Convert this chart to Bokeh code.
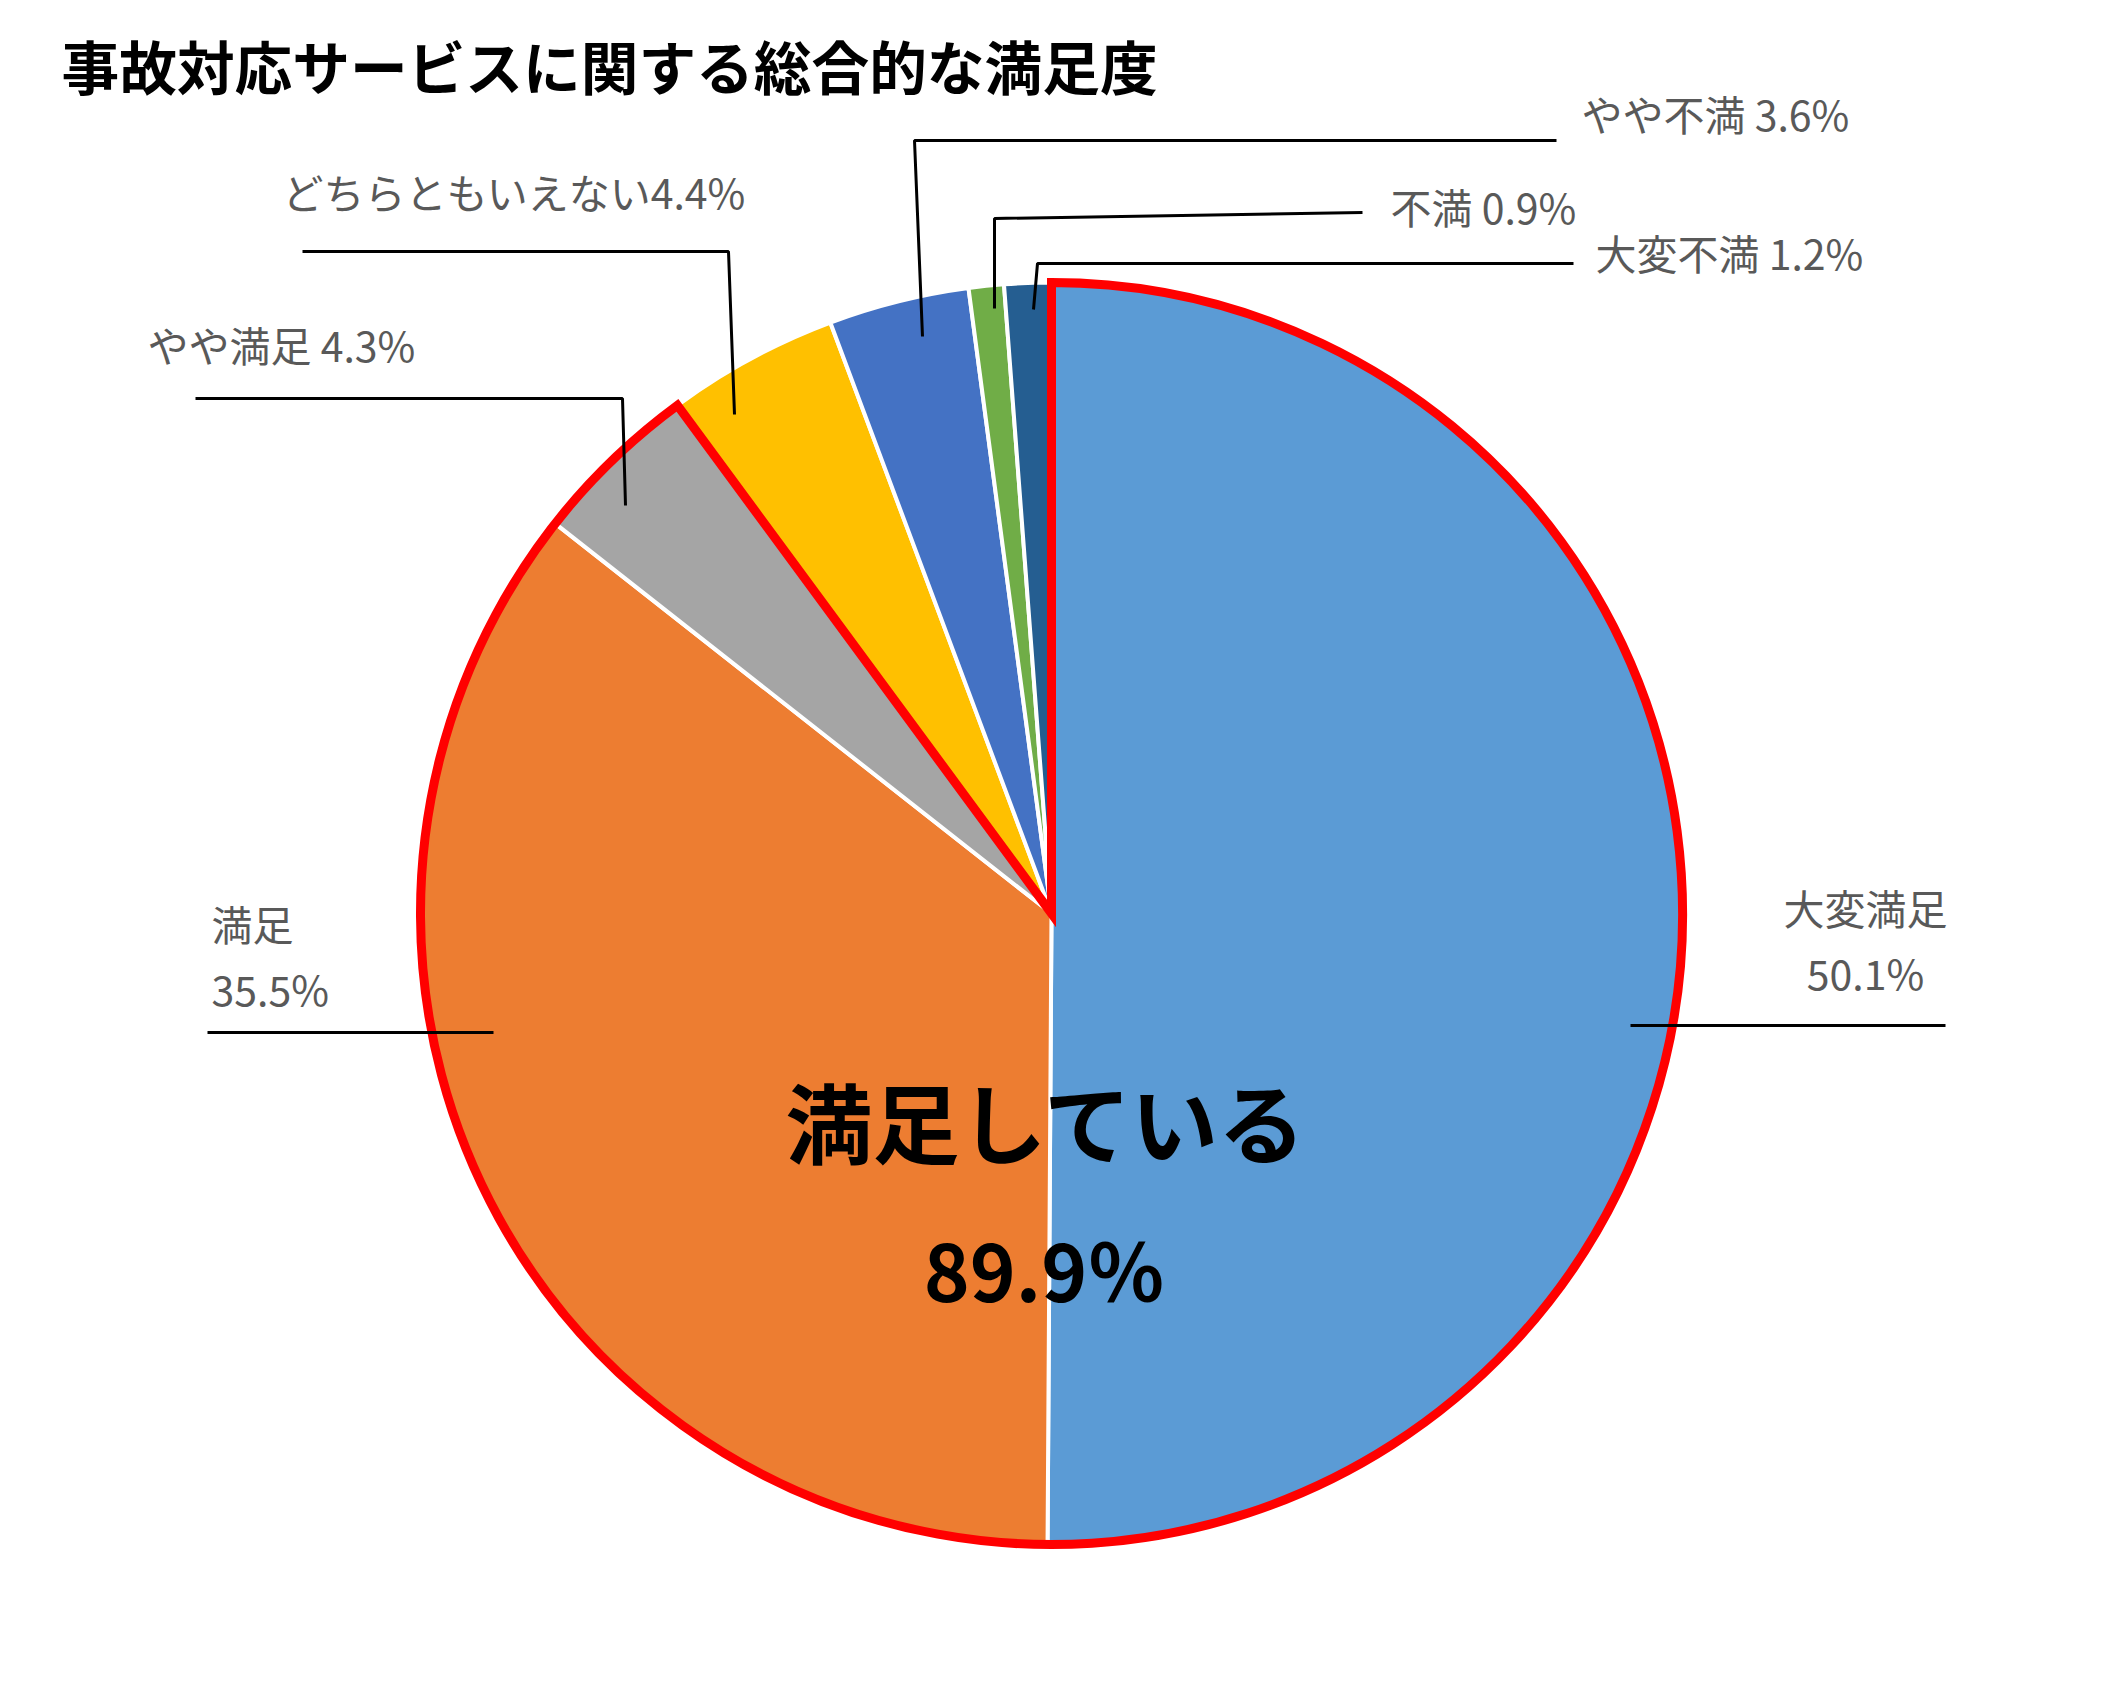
import math
from bokeh.plotting import figure
from bokeh.models import Range1d
from bokeh.core.properties import value
from bokeh.embed import file_html
from bokeh.resources import INLINE

# ---------------- data ----------------
title = "事故対応サービスに関する総合的な満足度"
categories = ["大変満足", "満足", "やや満足", "どちらともいえない", "やや不満", "不満", "大変不満"]
values = [50.1, 35.5, 4.3, 4.4, 3.6, 0.9, 1.2]
satisfied_categories = ["大変満足", "満足", "やや満足"]
center_caption = "満足している"

# ---------------- styles ----------------
palette = ["#5B9BD5", "#ED7D31", "#A5A5A5", "#FFC000", "#4472C4", "#70AD47", "#255E91"]
FONT = "Noto Sans CJK JP"
LABEL_COLOR = "#595959"

# page-pixel layout (y measured downward on the page; plotted as -y)
W, H = 2091, 1671
CX, CY, R = 1051, 913, 631

# label layout: anchor x, first line y, line step, align
label_layout = {
    "大変満足": (1865, 906, 65, "center"),
    "満足": (211, 922, 65, "left"),
    "やや満足": (147, 343, 0, "left"),
    "どちらともいえない": (282, 190, 0, "left"),
    "やや不満": (1581, 112, 0, "left"),
    "不満": (1390, 205, 0, "left"),
    "大変不満": (1595, 251, 0, "left"),
}
two_line = {"大変満足", "満足"}
no_space = {"どちらともいえない"}

# leader lines (page px)
leader_layout = {
    "大変満足": [(1630, 1025), (1945, 1025)],
    "満足": [(207, 1032), (493, 1032)],
    "やや満足": [(195, 398), (622, 398), (625, 505)],
    "どちらともいえない": [(302, 251), (728, 251), (734, 414)],
    "やや不満": [(1556, 140), (914, 140), (922, 336)],
    "不満": [(1362, 212), (994, 218), (994, 308)],
    "大変不満": [(1573, 263), (1037, 263), (1033, 309)],
}

p = figure(width=W, height=H, output_backend="svg", toolbar_location=None,
           x_range=Range1d(0, W), y_range=Range1d(-H, 0),
           min_border=0, outline_line_color=None, background_fill_color="white",
           border_fill_color="white")
p.axis.visible = False
p.grid.visible = False

# ---------------- slices ----------------
total = sum(values)
starts, ends = [], []
cum = 0.0
for v in values:
    starts.append(math.pi / 2 - 2 * math.pi * cum / total)
    cum += v
    ends.append(math.pi / 2 - 2 * math.pi * cum / total)

p.wedge(x=[CX] * len(values), y=[-CY] * len(values), radius=R,
        start_angle=starts, end_angle=ends, direction="clock",
        fill_color=palette, line_color="white", line_width=4)

# red outline around the "satisfied" group
n_sat = len(satisfied_categories)
sat_total = sum(values[:n_sat])
p.wedge(x=[CX], y=[-CY], radius=R, start_angle=[starts[0]], end_angle=[ends[n_sat - 1]],
        direction="clock", fill_alpha=0, line_color="#FF0000", line_width=9,
        line_join="miter")

# ---------------- leader lines ----------------
xs, ys = [], []
for c in categories:
    pts = leader_layout[c]
    xs.append([pt[0] for pt in pts])
    ys.append([-pt[1] for pt in pts])
p.multi_line(xs, ys, line_color="black", line_width=3)

# ---------------- labels ----------------
for c, v in zip(categories, values):
    x, y, step, align = label_layout[c]
    pct = f"{v:.1f}%"
    if c in two_line:
        lines = [c, pct]
    elif c in no_space:
        lines = [c + pct]
    else:
        lines = [c + " " + pct]
    for i, t in enumerate(lines):
        p.text(x=[x], y=[-(y + i * step)], text=[t], text_font=value(FONT),
               text_font_size="41px", text_color=LABEL_COLOR,
               text_align=align, text_baseline="middle")

# ---------------- center annotation ----------------
p.text(x=[1046], y=[-1119], text=[center_caption], text_font=value(FONT),
       text_font_size="87px", text_font_style="bold", text_color="black",
       text_align="center", text_baseline="middle")
p.text(x=[1044], y=[-1267], text=[f"{sat_total:.1f}％"], text_font=value(FONT),
       text_font_size="78px", text_font_style="bold", text_color="black",
       text_align="center", text_baseline="middle")

# ---------------- title ----------------
p.text(x=[61], y=[-64], text=[title], text_font=value(FONT),
       text_font_size="57.7px", text_font_style="bold", text_color="black",
       text_align="left", text_baseline="middle")

open("out.html", "w").write(file_html(p, INLINE))
